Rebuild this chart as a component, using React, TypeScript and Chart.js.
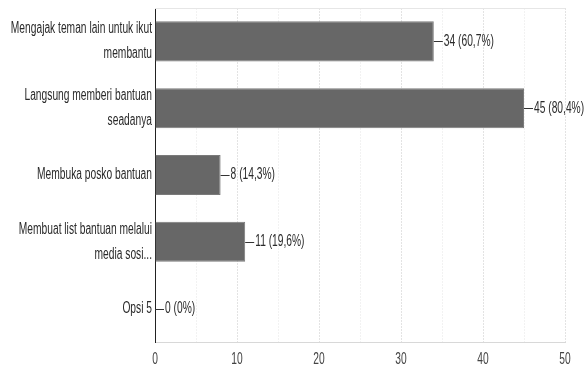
import React, { useEffect, useRef } from "react";
import { Chart, registerables } from "chart.js";

Chart.register(...registerables);

const categories: string[][] = [
  ["Mengajak teman lain untuk ikut", "membantu"],
  ["Langsung memberi bantuan", "seadanya"],
  ["Membuka posko bantuan"],
  ["Membuat list bantuan melalui", "media sosi..."],
  ["Opsi 5"],
];
const counts: number[] = [34, 45, 8, 11, 0];
const percents: string[] = ["60,7%", "80,4%", "14,3%", "19,6%", "0%"];
const xTicks: number[] = [0, 10, 20, 30, 40, 50];

const FONT = "16px 'Liberation Sans', Arial, sans-serif";
const SQUEEZE = 0.64;

function narrowText(ctx: any, text: string, x: number, y: number, align: "left" | "right" | "center") {
  ctx.save();
  ctx.translate(x, y);
  ctx.scale(SQUEEZE, 1);
  ctx.textAlign = align;
  ctx.fillText(text, 0, 0);
  ctx.restore();
}

const textPlugin = {
  id: "narrowTexts",
  afterDraw(chart: any) {
    const ctx = chart.ctx;
    const xs = chart.scales.x;
    const ys = chart.scales.y;
    const meta = chart.getDatasetMeta(0);
    ctx.save();
    ctx.font = FONT;
    ctx.textBaseline = "middle";
    ctx.fillStyle = "#2a2a2a";
    ctx.strokeStyle = "#333";
    ctx.lineWidth = 1;
    meta.data.forEach((bar: any, i: number) => {
      const x = bar.x;
      const y = Math.round(bar.y) + 0.5;
      ctx.beginPath();
      ctx.moveTo(x, y);
      ctx.lineTo(x + 9, y);
      ctx.stroke();
      narrowText(ctx, `${counts[i]} (${percents[i]})`, x + 10, bar.y, "left");
    });
    categories.forEach((lines, i) => {
      const cy = ys.getPixelForValue(i);
      const lh = 25;
      const start = cy - ((lines.length - 1) * lh) / 2;
      lines.forEach((ln, j) => {
        narrowText(ctx, ln, xs.left - 3, start + j * lh, "right");
      });
    });
    ctx.fillStyle = "#444";
    xTicks.forEach((v) => {
      narrowText(ctx, String(v), xs.getPixelForValue(v), xs.top + 18, "center");
    });
    ctx.restore();
  },
};

const framePlugin = {
  id: "frame",
  beforeDatasetsDraw(chart: any) {
    const { ctx, chartArea } = chart;
    ctx.save();
    ctx.strokeStyle = "#e6e6e6";
    ctx.lineWidth = 1;
    ctx.beginPath();
    ctx.moveTo(chartArea.left, Math.round(chartArea.top) + 0.5);
    ctx.lineTo(chartArea.right, Math.round(chartArea.top) + 0.5);
    ctx.stroke();
    ctx.restore();
  },
};

export default function App() {
  const ref = useRef<HTMLCanvasElement>(null);
  useEffect(() => {
    if (!ref.current) return;
    const chart = new Chart(ref.current, {
      type: "bar",
      data: {
        labels: categories,
        datasets: [
          {
            data: counts,
            backgroundColor: "#676767",
            borderColor: "#7a7a7a",
            borderWidth: 1,
            barPercentage: 0.6,
            categoryPercentage: 1,
          },
        ],
      },
      options: {
        indexAxis: "y",
        animation: false,
        responsive: false,
        maintainAspectRatio: false,
        layout: { padding: { top: 8, right: 20, left: 0, bottom: 0 } },
        plugins: { legend: { display: false }, tooltip: { enabled: false } },
        scales: {
          x: {
            min: 0,
            max: 50,
            afterBuildTicks: (scale: any) => {
              const t: any[] = [];
              for (let v = 0; v <= 50; v += 5) t.push({ value: v });
              scale.ticks = t;
            },
            afterFit: (scale: any) => {
              scale.height = 27;
            },
            ticks: { display: false, autoSkip: false },
            grid: {
              drawTicks: false,
              color: (c: any) =>
                c.tick && xTicks.includes(c.tick.value) ? "#e3e3e3" : "#f2f2f2",
            },
            border: { display: true, color: "#d8d8d8", dash: [2, 1] },
          },
          y: {
            afterFit: (scale: any) => {
              scale.width = 155;
            },
            ticks: { display: false },
            grid: { display: false, drawTicks: false },
            border: { display: true, color: "#222", width: 1 },
          },
        },
      },
      plugins: [framePlugin, textPlugin],
    });
    return () => chart.destroy();
  }, []);
  return (
    <div style={{ position: "absolute", left: 0, top: 0, width: 585, height: 369, background: "#fff" }}>
      <canvas ref={ref} width={585} height={369} style={{ display: "block" }} />
    </div>
  );
}
